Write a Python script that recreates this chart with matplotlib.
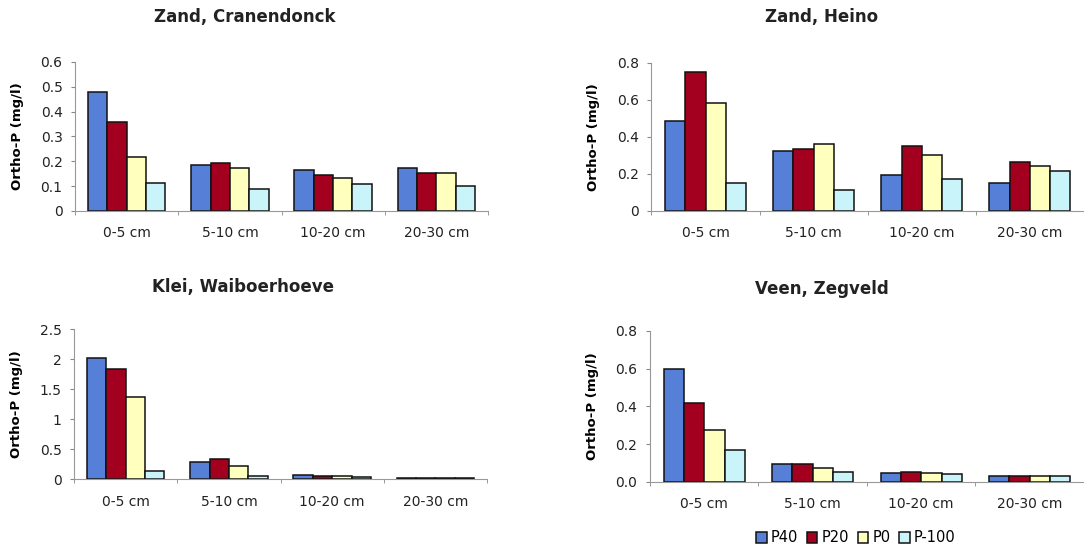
import matplotlib.pyplot as plt
import numpy as np

plt.rcParams['font.family'] = ['DejaVu Sans']

depths = ["0-5 cm", "5-10 cm", "10-20 cm", "20-30 cm"]
treatments = ["P40", "P20", "P0", "P-100"]

# Zand, Cranendonck
cran_p40 = [0.48, 0.185, 0.165, 0.174]
cran_p20 = [0.357, 0.195, 0.146, 0.154]
cran_p0 = [0.219, 0.172, 0.132, 0.154]
cran_pm100 = [0.114, 0.089, 0.109, 0.102]

# Zand, Heino
heino_p40 = [0.487, 0.324, 0.196, 0.153]
heino_p20 = [0.751, 0.334, 0.352, 0.263]
heino_p0 = [0.581, 0.361, 0.302, 0.245]
heino_pm100 = [0.153, 0.112, 0.174, 0.217]

# Klei, Waiboerhoeve
klei_p40 = [2.02, 0.283, 0.072, 0.03]
klei_p20 = [1.833, 0.333, 0.05, 0.03]
klei_p0 = [1.378, 0.228, 0.05, 0.03]
klei_pm100 = [0.139, 0.061, 0.045, 0.03]

# Veen, Zegveld
veen_p40 = [0.596, 0.092, 0.046, 0.032]
veen_p20 = [0.418, 0.092, 0.051, 0.032]
veen_p0 = [0.272, 0.074, 0.046, 0.032]
veen_pm100 = [0.168, 0.051, 0.041, 0.032]

colors = ['#5680D8', '#A2001E', '#FFFFBE', '#C8F4FA']

panels = [
    ("Zand, Cranendonck", [cran_p40, cran_p20, cran_p0, cran_pm100],
     [0.0692, 0.6164, 0.381, 0.2709], [0, 0.1, 0.2, 0.3, 0.4, 0.5, 0.6],
     ["0", "0.1", "0.2", "0.3", "0.4", "0.5", "0.6"], (245, 17)),
    ("Zand, Heino", [heino_p40, heino_p20, heino_p0, heino_pm100],
     [0.601, 0.6164, 0.399, 0.2697], [0, 0.2, 0.4, 0.6, 0.8],
     ["0", "0.2", "0.4", "0.6", "0.8"], (822, 17)),
    ("Klei, Waiboerhoeve", [klei_p40, klei_p20, klei_p0, klei_pm100],
     [0.0683, 0.1285, 0.381, 0.2727], [0, 0.5, 1, 1.5, 2, 2.5],
     ["0", "0.5", "1", "1.5", "2", "2.5"], (243, 287)),
    ("Veen, Zegveld", [veen_p40, veen_p20, veen_p0, veen_pm100],
     [0.5996, 0.1242, 0.4004, 0.274], [0, 0.2, 0.4, 0.6, 0.8],
     ["0.0", "0.2", "0.4", "0.6", "0.8"], (822, 289)),
]

fig = plt.figure(figsize=(10.84, 5.5), dpi=100)

x = np.arange(len(depths))
bw = 0.1875
handles = None
for title, series, pos, yticks, ylabels, tpos in panels:
    ax = fig.add_axes(pos)
    bars = []
    for i, vals in enumerate(series):
        b = ax.bar(x + (i - 1.5) * bw, vals, bw, color=colors[i],
                   edgecolor='#111111', linewidth=1.1, label=treatments[i])
        bars.append(b)
    handles = bars
    ax.set_xlim(-0.5, len(depths) - 0.5)
    ax.set_ylim(0, yticks[-1])
    ax.set_yticks(yticks)
    ax.set_yticklabels(ylabels, fontsize=10, color='#222222')
    ax.set_xticks(x)
    ax.set_xticklabels(depths, fontsize=10, color='#222222')
    ax.tick_params(axis='x', length=0, pad=11)
    ax.set_xticks(np.arange(-0.5, len(depths) + 0.5, 1), minor=True)
    ax.tick_params(axis='x', which='minor', length=3, color='#888888', direction='out')
    ax.tick_params(axis='y', length=3, color='#888888', pad=6)
    for s in ['top', 'right']:
        ax.spines[s].set_visible(False)
    ax.spines['left'].set_color('#999999')
    ax.spines['bottom'].set_color('#999999')
    ax.set_ylabel("Ortho-P (mg/l)", fontsize=9.5, fontweight='bold', labelpad=12)
    fig.text(tpos[0] / 1084, 1 - tpos[1] / 550, title, ha='center', va='center',
             fontsize=12, fontweight='bold', color='#222222')

fig.legend(handles, treatments, loc='center', bbox_to_anchor=(856 / 1084, 1 - 538 / 550),
           ncol=4, frameon=False, fontsize=10.5, handlelength=0.7, handleheight=0.7,
           handletextpad=0.3, columnspacing=0.6)

fig.savefig("out.png", dpi=100)
